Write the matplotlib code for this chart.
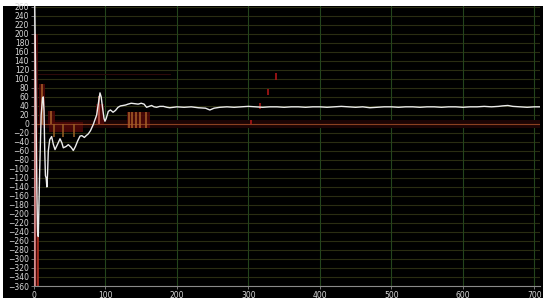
import matplotlib
matplotlib.use("Agg")
import matplotlib.pyplot as plt
from matplotlib.patches import Rectangle

# ---- data ----
sig_x = [0, 1, 2, 3, 4, 5, 6, 8, 10, 12,
         13, 14, 15, 16, 17, 18, 19, 20, 22, 24.7,
         27, 29.4, 33, 36.4, 39, 41, 45, 48, 52, 55,
         58, 61, 64.4, 67, 70.5, 73, 76, 79, 83, 85,
         87.7, 90, 92.3, 94, 96, 98, 99.3, 101, 104, 107,
         110.6, 114, 117.6, 121, 124.6, 128, 131.6, 136, 141, 145.7,
         150, 154, 157.5, 161, 164.5, 168, 171.5, 176, 181, 186,
         190, 200, 210, 220, 230, 240, 246, 252, 260, 270,
         280, 290, 300, 310, 320, 330, 340, 350, 360, 370,
         380, 390, 400, 410, 420, 430, 440, 450, 460, 470,
         480, 490, 500, 510, 520, 530, 540, 550, 560, 570,
         580, 590, 600, 610, 620, 630, 640, 650, 655, 663,
         670, 680, 690, 700, 710]
sig_y = [270, 270, 150, 0, -150, -240, -250, -100, 20, 58,
         60, 30, -60, -115, -120, -140, -110, -60, -35, -28,
         -45, -57, -45, -33, -42, -53, -50, -46, -52, -59,
         -50, -38, -27, -26, -30, -26, -22, -15, -1, 8,
         20, 45, 69, 60, 35, 12, 6, 12, 28, 31,
         26, 30, 37, 40, 41, 42, 44, 46, 45, 44,
         46, 44, 37, 39, 41, 38, 37, 39, 39, 37,
         36, 38, 37, 38, 36, 35, 31, 35, 37, 38,
         37, 38, 39, 38, 37, 38, 38, 37, 38, 38,
         37, 38, 38, 37, 38, 39, 38, 37, 38, 36,
         37, 38, 38, 37, 38, 38, 37, 38, 38, 37,
         38, 38, 37, 38, 38, 39, 38, 39, 40, 41,
         39, 38, 37, 38, 38]

# dark red envelope boxes: (x0, x1, y0, y1)
box_x0 = [0, 6.5, 19, 20.5, 86.8, 130]
box_x1 = [5, 14.8, 29, 69, 98, 163]
box_y0 = [-360, 0, 0, -18, 0, -10]
box_y1 = [200, 88, 28, 5, 44, 27]

# bright stems: x, bottom, top
stem_x = [1, 5, 10.7, 23.3, 27.5, 40.5, 56, 91.4, 133, 137, 143, 148, 157]
stem_lo = [-360, -360, 0, 0, -29, -29, -29, 0, -10, -10, -10, -10, -10]
stem_hi = [200, -250, 88, 28, 0, 0, 0, 62, 27, 27, 27, 27, 27]
stem_col = ['#e89090', '#c03828', '#a86028', '#a86028', '#9a6024', '#9a6024',
            '#9a6024', '#c86050', '#a86028', '#a86028', '#a86028', '#a86028', '#a86028']

# stray red marks
mark_x = [304, 316, 327, 338]
mark_lo = [0, 34, 64, 98]
mark_hi = [9, 46, 78, 114]

xticks = [0, 100, 200, 300, 400, 500, 600, 700]
yticks = list(range(-360, 261, 20))

# ---- figure ----
fig = plt.figure(figsize=(5.5, 3.03), dpi=100)
fig.patch.set_facecolor('white')
bg = Rectangle((3/550, 5/303), 540/550, 292/303, transform=fig.transFigure,
               facecolor='black', edgecolor='none', zorder=-10)
fig.patches.append(bg)

ax = fig.add_axes([34/550, 17/303, 506/550, 280/303])
ax.set_zorder(1)
ax.set_facecolor('black')
ax.set_xlim(0, 708)
ax.set_ylim(-360, 262)

for y in yticks:
    ax.axhline(y, color='#2a2d12', lw=0.8, zorder=1)
for x in xticks[1:]:
    ax.axvline(x, color='#24441c', lw=0.8, zorder=1)

ax.axhspan(-8, 8, color='#1c0404', zorder=1.2, lw=0)
ax.plot([5, 190], [112, 112], color='#2e0a0a', lw=0.8, zorder=1.3)

for x0, x1, y0, y1 in zip(box_x0, box_x1, box_y0, box_y1):
    ax.add_patch(Rectangle((x0, y0), x1 - x0, y1 - y0, facecolor='#520808',
                           edgecolor='none', alpha=0.85, zorder=1.5))

ax.axhline(0, color='#8a4020', lw=0.8, zorder=2)

ax.vlines(stem_x, stem_lo, stem_hi, colors=stem_col, lw=1.1, zorder=3)
ax.vlines(mark_x, mark_lo, mark_hi, colors='#a01414', lw=1.3, zorder=3)

ax.plot(sig_x, sig_y, color='#ececec', lw=1.0, zorder=4)

ax.set_xticks(xticks)
ax.set_yticks(yticks)
ax.tick_params(colors='#888888', labelcolor='#d8d8d8', labelsize=5.5, length=2, width=0.6, pad=1.5)
for s in ['top', 'right']:
    ax.spines[s].set_visible(False)
for s in ['left', 'bottom']:
    ax.spines[s].set_color('#8a8a8a')
    ax.spines[s].set_linewidth(0.8)

fig.savefig('out.png', dpi=100, facecolor=fig.get_facecolor())
